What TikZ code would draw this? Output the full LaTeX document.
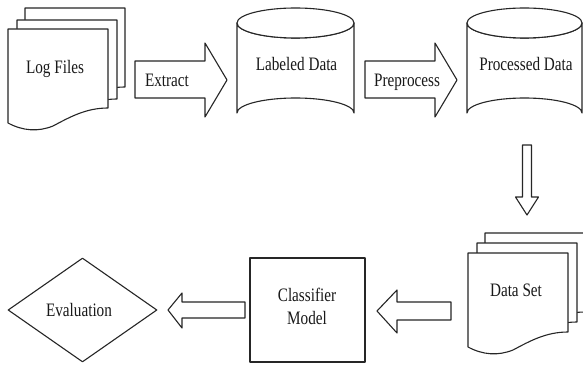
\documentclass[tikz,border=0pt]{standalone}
\usepackage{fontspec}
\setmainfont{Liberation Serif}[FakeStretch=0.8]
\usetikzlibrary{shapes.geometric}
\tikzset{
  shapeline/.style={draw=black!85, line width=1.1pt, fill=white, line join=round},
  lbl/.style={font=\fontsize{19}{23}\selectfont, text=black!90, inner sep=0pt, align=center},
}
\newcommand{\docpage}[2]{%
  \draw[shapeline, shift={(#1,#2)}] (0,0) -- (100,0) -- (100,79)
    .. controls (78,79) and (62,88) .. (45,97)
    .. controls (30,103) and (15,102) .. (0,94) -- cycle;}
\newcommand{\dbcyl}[3]{% left x, right x, name
  \pgfmathsetmacro{\cx}{(#1+#2)/2}\pgfmathsetmacro{\rx}{(#2-#1)/2}%
  \draw[shapeline] (#1,23) -- (#1,113) arc[start angle=180, end angle=360, x radius=\rx, y radius=15]
    -- (#2,23) arc[start angle=0, end angle=180, x radius=\rx, y radius=15] -- cycle;
  \draw[shapeline] (\cx,23) ellipse[x radius=\rx, y radius=15];
  \coordinate (#3) at (\cx,68);}
\begin{document}
\begin{tikzpicture}[x=1pt,y=-1pt]
\clip (0,0) rectangle (583,366);
\fill[white] (0,0) rectangle (583,366);
% Log Files (multi-document)
\docpage{25}{8}
\docpage{17}{20}
\docpage{8}{29}
\node[lbl] (logs) at (55,69) {Log Files};
% Extract arrow
\draw[shapeline] (135,61) -- (205,61) -- (205,43) -- (227,80) -- (205,117) -- (205,98) -- (135,98) -- cycle;
\node[lbl] (extract) at (167,80) {Extract};
% Labeled Data cylinder
\dbcyl{237}{354}{labc}
\node[lbl] (labeled) at (296.5,64) {Labeled Data};
% Preprocess arrow
\draw[shapeline] (365,61) -- (435,61) -- (435,43) -- (457,80) -- (435,117) -- (435,98) -- (365,98) -- cycle;
\node[lbl] (prep) at (407,82) {Preprocess};
% Processed Data cylinder
\dbcyl{467}{582}{proc}
\node[lbl] (processed) at (526,64) {Processed Data};
% down arrow
\draw[shapeline] (522.5,145) -- (531.5,145) -- (531.5,197) -- (538.5,197) -- (527,215) -- (515.5,197) -- (522.5,197) -- cycle;
% Data Set (multi-document)
\docpage{485}{233}
\docpage{477}{243}
\docpage{468}{253}
\node[lbl] (dataset) at (516,290) {Data Set};
% arrow Data Set -> Classifier
\draw[shapeline] (451,302) -- (397,302) -- (397,290) -- (377,311) -- (397,333) -- (397,320) -- (451,320) -- cycle;
% Classifier model
\node[shapeline, rectangle, minimum width=115pt, minimum height=104pt, inner sep=0pt] (clf) at (307.5,310) {};
\node[lbl] (clftext) at (307,306) {Classifier\\Model};
% arrow Classifier -> Evaluation
\draw[shapeline] (245,302) -- (182,302) -- (182,293) -- (168,310) -- (182,328) -- (182,318) -- (245,318) -- cycle;
% Evaluation diamond
\node[shapeline, diamond, minimum width=149pt, minimum height=104pt, inner sep=0pt] (eval) at (82.5,310) {};
\node[lbl] (evaltext) at (79,310) {Evaluation};
\end{tikzpicture}
\end{document}
